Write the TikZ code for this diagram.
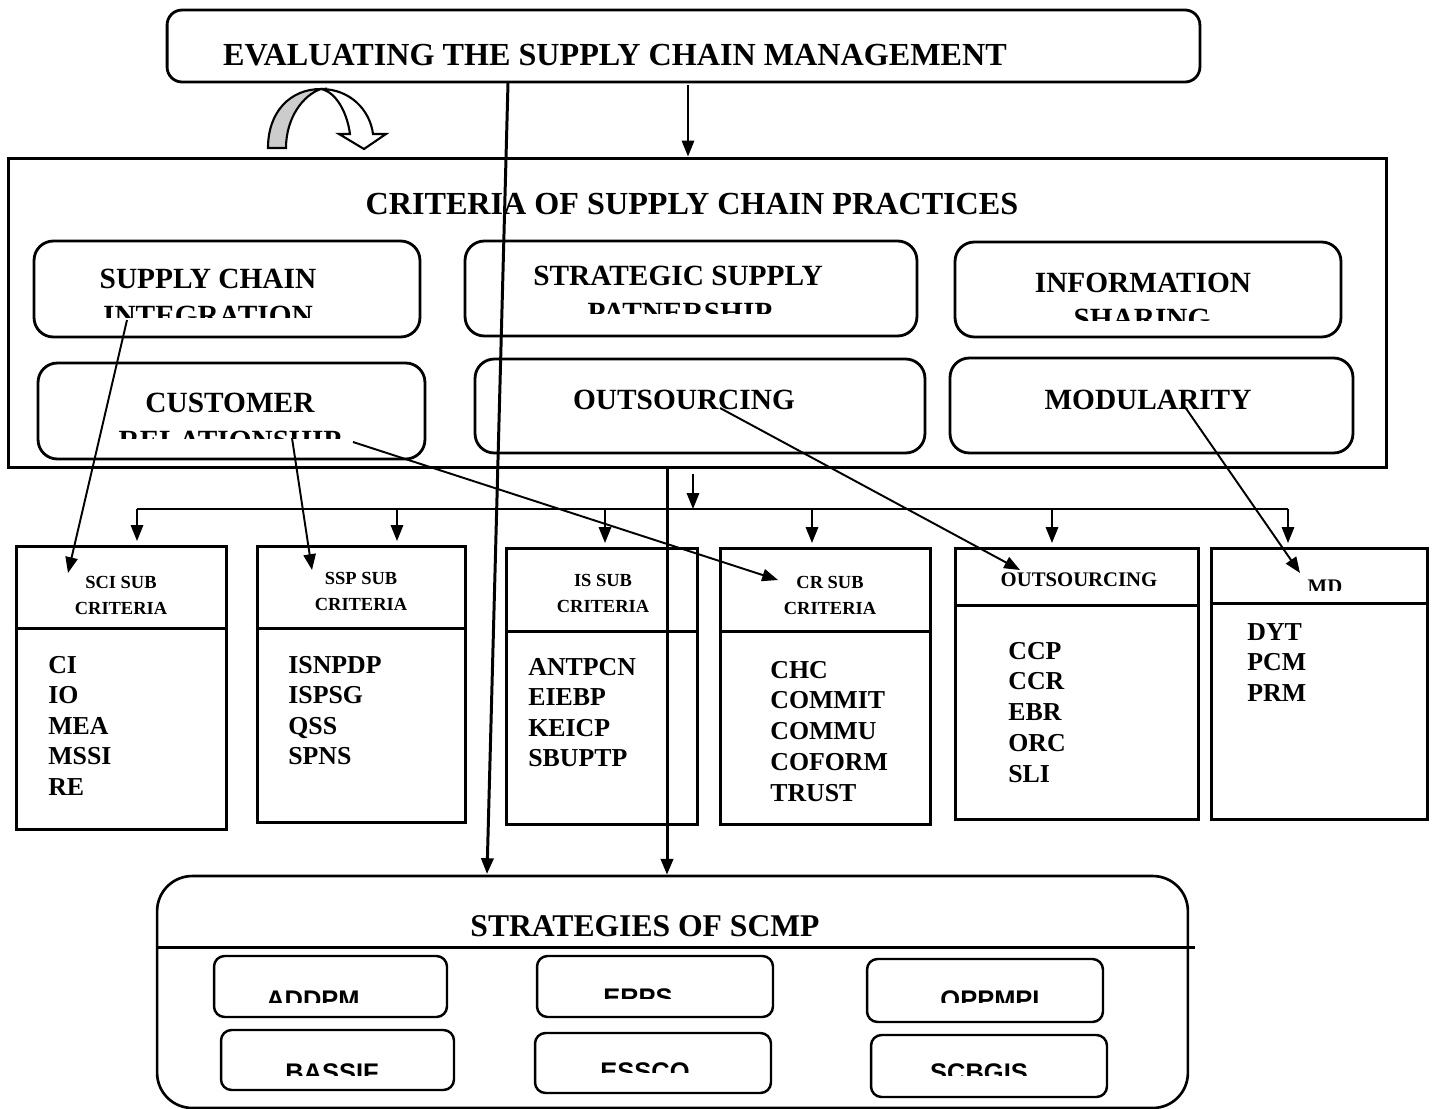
\documentclass[tikz,border=0pt]{standalone}
\usepackage{fontspec}
\setmainfont{Liberation Serif}
\newfontfamily\stratfont{Liberation Sans}
\usetikzlibrary{arrows.meta}
\tikzstyle{topbox} = [rectangle, draw, rounded corners=8.5pt, line width=1.6pt]
\tikzstyle{critbox} = [rectangle, draw, line width=1.7pt]
\tikzstyle{pbox} = [rectangle, draw, rounded corners=11pt, line width=1.6pt]
\tikzstyle{subbox} = [rectangle, draw, line width=1.7pt]
\tikzstyle{stratbox} = [rectangle, draw, rounded corners=20pt, line width=1.5pt]
\tikzstyle{sbox} = [rectangle, draw, rounded corners=6pt, line width=1.4pt]
\tikzset{
	bigtext/.style={inner sep=0pt, font=\fontsize{18.3}{21}\selectfont\bfseries},
	ptext/.style={inner sep=0pt, font=\fontsize{16.7}{20}\selectfont\bfseries},
	subhead/.style={inner sep=0pt, font=\fontsize{10.5}{13}\selectfont\bfseries},
	subheadb/.style={inner sep=0pt, font=\fontsize{11.8}{14}\selectfont\bfseries},
	listitem/.style={inner sep=0pt, anchor=base west, font=\fontsize{14.7}{17}\selectfont\bfseries},
	stext/.style={inner sep=0pt, anchor=base, font=\stratfont\fontsize{14.5}{17}\selectfont\bfseries},
	arr/.style={->, line width=1.1pt},
	longarr/.style={->, line width=1.7pt},
	divider/.style={line width=1.7pt}
}

\begin{document}
\begin{tikzpicture}[x=0.02cm, y=-0.02cm, >={Triangle[length=9pt,width=7pt]}]
	\useasboundingbox (0,0) rectangle (1434,1109);

	% top box
	\node [topbox, minimum width=20.66cm, minimum height=1.44cm] (eval) at (683.5,46) {};
	\node [bigtext, anchor=base] (evaltxt) at (615,65) {EVALUATING THE SUPPLY CHAIN MANAGEMENT};

	% curved arrow
	\draw [line width=1.2pt, fill=gray!40] (268,148) .. controls (268,112) and (290,89) .. (321,89)
		.. controls (303,95) and (286,118) .. (286,148) -- cycle;
	\draw [line width=1.2pt, fill=white] (321,89) .. controls (350,89) and (370,110) .. (373,134)
		-- (386,134) -- (364,149) -- (339,134) -- (350,134) .. controls (347,112) and (336,92) .. (321,89);

	% criteria
	\node [critbox, minimum width=27.58cm, minimum height=6.2cm] (crit) at (697.5,313) {};
	\node [bigtext, anchor=base] (crittxt) at (692,214) {CRITERIA OF SUPPLY CHAIN PRACTICES};

	\node [pbox, minimum width=7.72cm, minimum height=1.92cm] (sci) at (227,289) {};
	\node [pbox, minimum width=9.04cm, minimum height=1.9cm] (ssp) at (691,288.5) {};
	\node [pbox, minimum width=7.72cm, minimum height=1.9cm] (is) at (1148,289.5) {};
	\node [pbox, minimum width=7.74cm, minimum height=1.92cm] (cr) at (231.5,411) {};
	\node [pbox, minimum width=9.0cm, minimum height=1.88cm] (out) at (700,406) {};
	\node [pbox, minimum width=8.06cm, minimum height=1.9cm] (mod) at (1151.5,405.5) {};

	\node [ptext, anchor=base] (scitxt) at (208,288) {SUPPLY CHAIN};
	\node [ptext, anchor=base] (ssptxt) at (678,285) {STRATEGIC SUPPLY};
	\node [ptext, anchor=base] (istxt) at (1143,292) {INFORMATION};
	\node [ptext, anchor=base] (crtxt) at (230,412) {CUSTOMER};
	\node [ptext, anchor=base] (outtxt) at (684,409) {OUTSOURCING};
	\node [ptext, anchor=base] (modtxt) at (1148,409) {MODULARITY};

	% sub criteria
	\node [subbox, minimum width=4.22cm, minimum height=5.68cm] (scisub) at (121.5,688) {};
	\node [subbox, minimum width=4.18cm, minimum height=5.54cm] (sspsub) at (361.5,684.5) {};
	\node [subbox, minimum width=3.84cm, minimum height=5.54cm] (issub) at (602,686.5) {};
	\node [subbox, minimum width=4.22cm, minimum height=5.54cm] (crsub) at (825.5,686.5) {};
	\node [subbox, minimum width=4.88cm, minimum height=5.44cm] (outsub) at (1077,684) {};
	\node [subbox, minimum width=4.34cm, minimum height=5.44cm] (mdsub) at (1319.5,684) {};

	\draw [divider] (scisub.west |- 0,628) -- (scisub.east |- 0,628);
	\draw [divider] (sspsub.west |- 0,628) -- (sspsub.east |- 0,628);
	\draw [divider] (issub.west |- 0,631) -- (issub.east |- 0,631);
	\draw [divider] (crsub.west |- 0,631) -- (crsub.east |- 0,631);
	\draw [divider] (outsub.west |- 0,605) -- (outsub.east |- 0,605);
	\draw [divider] (mdsub.west |- 0,603) -- (mdsub.east |- 0,603);

	\node [subhead, anchor=base] (scih1) at (121,588) {SCI SUB};
	\node [subhead, anchor=base] (scih2) at (121,614) {CRITERIA};
	\node [subhead, anchor=base] (ssph1) at (361,584) {SSP SUB};
	\node [subhead, anchor=base] (ssph2) at (361,610) {CRITERIA};
	\node [subhead, anchor=base] (ish1) at (603,586) {IS SUB};
	\node [subhead, anchor=base] (ish2) at (603,612) {CRITERIA};
	\node [subhead, anchor=base] (crh1) at (830,588) {CR SUB};
	\node [subhead, anchor=base] (crh2) at (830,614) {CRITERIA};
	\node [subheadb, anchor=base] (outh) at (1079,586) {OUTSOURCING};

	\foreach \t [count=\i] in {CI, IO, MEA, MSSI, RE}
		\node [listitem] (scii\i) at (48,{673+30.5*(\i-1)}) {\t};
	\foreach \t [count=\i] in {ISNPDP, ISPSG, QSS, SPNS}
		\node [listitem] (sspi\i) at (288,{673+30.5*(\i-1)}) {\t};
	\foreach \t [count=\i] in {ANTPCN, EIEBP, KEICP, SBUPTP}
		\node [listitem] (isi\i) at (528,{675+30.5*(\i-1)}) {\t};
	\foreach \t [count=\i] in {CHC, COMMIT, COMMU, COFORM, TRUST}
		\node [listitem] (cri\i) at (770,{678+30.75*(\i-1)}) {\t};
	\foreach \t [count=\i] in {CCP, CCR, EBR, ORC, SLI}
		\node [listitem] (outi\i) at (1008,{659+30.75*(\i-1)}) {\t};
	\foreach \t [count=\i] in {DYT, PCM, PRM}
		\node [listitem] (mdi\i) at (1247,{640+30.5*(\i-1)}) {\t};

	% strategies
	\node [stratbox, minimum width=20.62cm, minimum height=4.64cm] (strat) at (672.5,992) {};
	\draw [divider] (strat.west |- 0,947) -- (1195,947);
	\node [bigtext, font=\fontsize{18}{20}\selectfont\bfseries, anchor=base] (strattxt) at (645,936) {STRATEGIES OF SCMP};

	\node [sbox, minimum width=4.66cm, minimum height=1.22cm] (addpm) at (330.5,986.5) {};
	\node [sbox, minimum width=4.72cm, minimum height=1.22cm] (erps) at (655,986.5) {};
	\node [sbox, minimum width=4.72cm, minimum height=1.26cm] (oppmpi) at (985,990.5) {};
	\node [sbox, minimum width=4.66cm, minimum height=1.2cm] (bassif) at (337.5,1060) {};
	\node [sbox, minimum width=4.72cm, minimum height=1.2cm] (essco) at (653,1063) {};
	\node [sbox, minimum width=4.72cm, minimum height=1.24cm] (scbgis) at (989,1066) {};

	% texts cut off by their boxes
	\begin{scope}
		\clip (34,241) rectangle (420,317) (465,241) rectangle (917,313)
			(955,242) rectangle (1341,320) (38,363) rectangle (425,438)
			(1211,548) rectangle (1428,590)
			(214,956) rectangle (447,1002) (537,956) rectangle (773,998)
			(867,959) rectangle (1103,1002) (221,1030) rectangle (454,1075)
			(535,1033) rectangle (771,1072) (871,1035) rectangle (1107,1075);
		\node [ptext, anchor=base] (scitxt2) at (208,325) {INTEGRATION};
		\node [ptext, anchor=base] (ssptxt2) at (680,322) {PATNERSHIP};
		\node [ptext, anchor=base] (istxt2) at (1142,328) {SHARING};
		\node [ptext, anchor=base] (crtxt2) at (230,450) {RELATIONSHIP};
		\node [subheadb, anchor=base] (mdh) at (1325,593) {MD};
		\node [stext] (addpmtxt) at (313,1008) {ADDPM};
		\node [stext] (erpstxt) at (638,1006) {ERPS};
		\node [stext] (oppmpitxt) at (990,1008) {OPPMPI};
		\node [stext] (bassiftxt) at (332,1081) {BASSIF};
		\node [stext] (esscotxt) at (645,1080) {ESSCO};
		\node [stext] (scbgistxt) at (979,1081) {SCBGIS};
	\end{scope}

	% connectors
	\coordinate (evaldrop) at (688,85);
	\coordinate (evalout) at (508,83);
	\coordinate (stratin) at (487,874);
	\coordinate (critout) at (667,468);
	\coordinate (critdrop) at (693,474);
	\coordinate (busL) at (137,509);
	\coordinate (busR) at (1288,509);

	\draw [arr] (evaldrop) -- (evaldrop |- crit.north);
	\draw [longarr] (evalout) -- (stratin);
	\draw [longarr] (critout) -- (critout |- strat.north);
	\draw [arr] (critdrop) -- (critdrop |- busL);
	\draw [line width=0.9pt] (busL) -- (busR);
	\foreach \x/\n in {137/scisub, 397/sspsub, 605/issub, 812/crsub, 1052/outsub, 1288/mdsub}
		\draw [arr, shorten >=2pt] (\x,509) -- (\x,509 |- \n.north);

	\coordinate (sciA) at (127,320);
	\coordinate (sciB) at (68,573);
	\coordinate (crA) at (292,438);
	\coordinate (crB) at (312,570);
	\coordinate (crC) at (353,442);
	\coordinate (crD) at (778,580);
	\coordinate (outA) at (720,408);
	\coordinate (outB) at (1020,570);
	\coordinate (modA) at (1185,407);
	\coordinate (modB) at (1300,573);
	\draw [arr] (sciA) -- (sciB);
	\draw [arr] (crA) -- (crB);
	\draw [arr] (crC) -- (crD);
	\draw [arr] (outA) -- (outB);
	\draw [arr] (modA) -- (modB);
\end{tikzpicture}
\end{document}
